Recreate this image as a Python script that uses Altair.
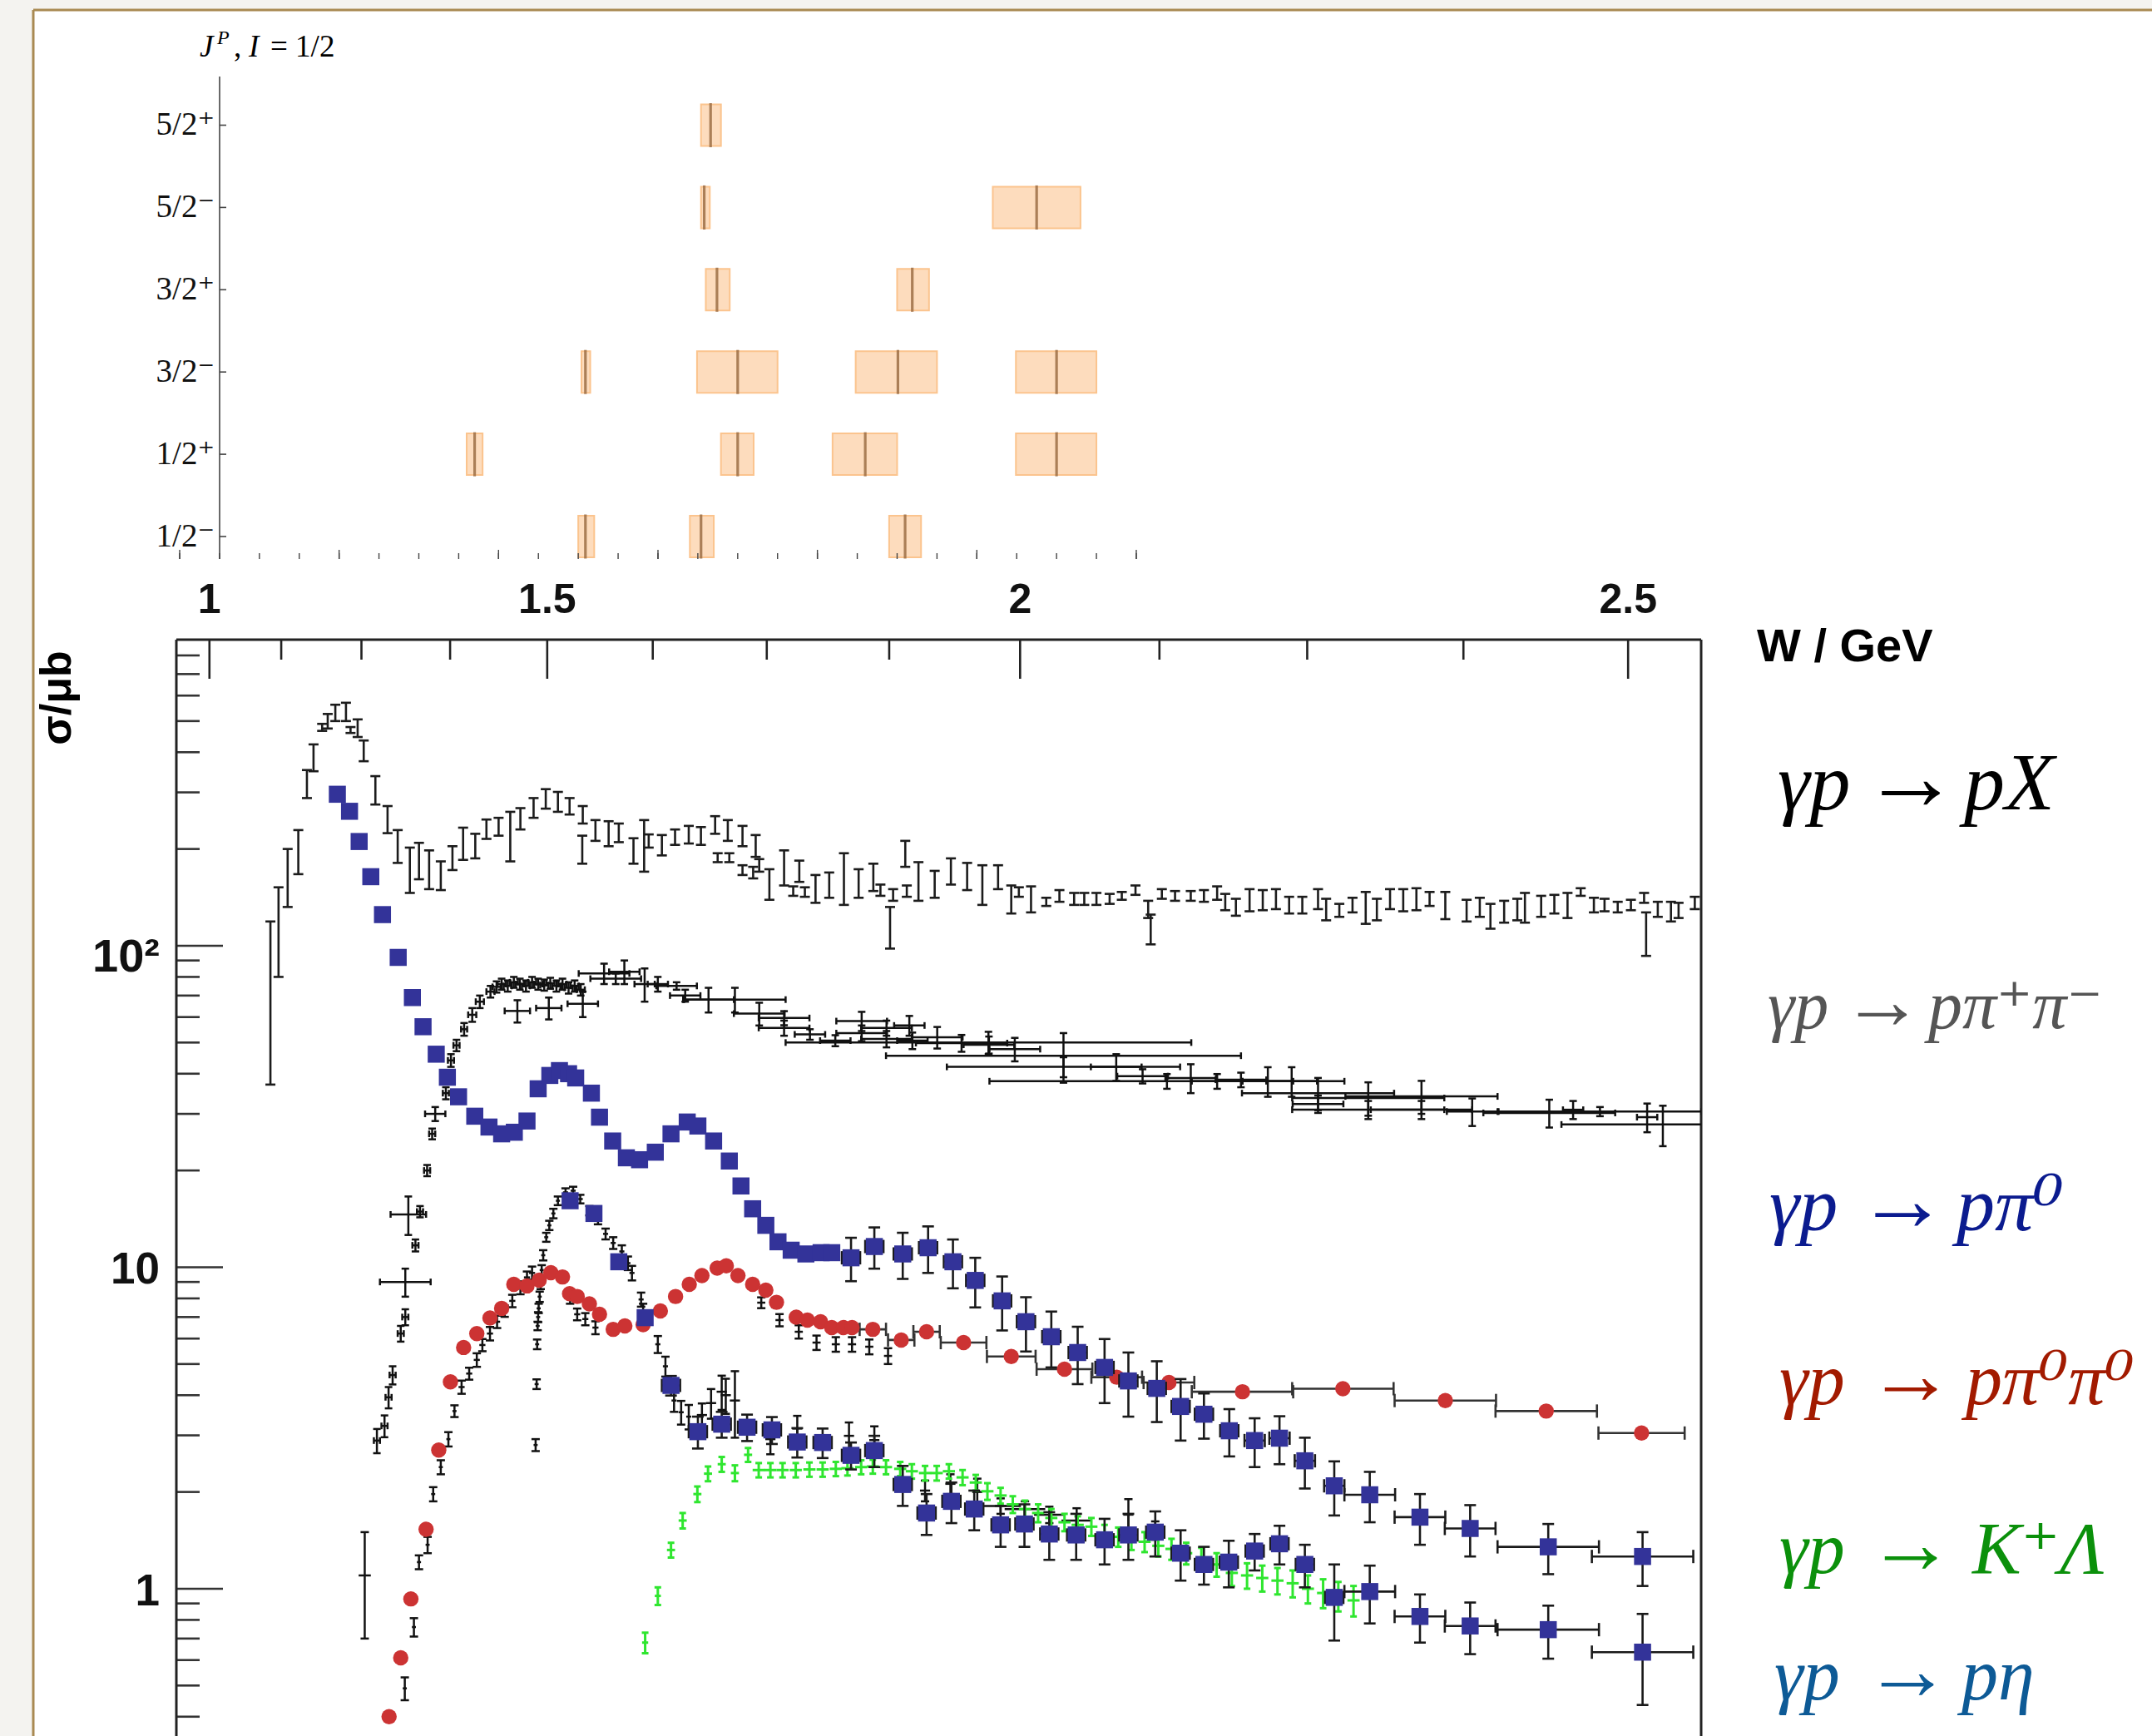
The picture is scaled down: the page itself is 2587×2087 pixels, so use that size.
import altair as alt
import pandas as pd

# ====================== DATA ======================
# --- top panel: N* resonances, I = 1/2 (row index, pole mass and band in GeV)
ROW_LABELS = ["1/2⁻", "1/2⁺", "3/2⁻", "3/2⁺", "5/2⁻", "5/2⁺"]
RES_ROW = [0, 0, 0, 1, 1, 1, 1, 2, 2, 2, 2, 3, 3, 4, 4, 5]
RES_MASS = [1.509, 1.654, 1.910, 1.370, 1.700, 1.860, 2.100, 1.509, 1.700, 1.901, 2.100, 1.674, 1.919, 1.658, 2.075, 1.666]
RES_LO = [1.500, 1.640, 1.890, 1.360, 1.679, 1.819, 2.049, 1.504, 1.649, 1.848, 2.049, 1.660, 1.900, 1.654, 2.020, 1.654]
RES_HI = [1.520, 1.670, 1.930, 1.380, 1.720, 1.900, 2.150, 1.515, 1.750, 1.950, 2.150, 1.690, 1.940, 1.665, 2.130, 1.679]
MASS_TICKS = [1.00, 1.05, 1.10, 1.15, 1.20, 1.25, 1.30, 1.35, 1.40, 1.45, 1.50, 1.55, 1.60,
              1.65, 1.70, 1.75, 1.80, 1.85, 1.90, 1.95, 2.00, 2.05, 2.10, 2.15, 2.20]
MASS_MAJOR = [1.0, 1.2, 1.4, 1.6, 1.8, 2.0, 2.2]

# --- main plot axes (x: photon energy E_gamma in GeV, labelled in W; y: sigma in microbarn)
W_MAJOR = [1.0, 1.5, 2.0, 2.5]
W_MAJOR_LABELS = ["1", "1.5", "2", "2.5"]
W_MINOR = [1.125, 1.25, 1.375, 1.625, 1.75, 1.875, 2.125, 2.25, 2.375]
SIG_MAJOR = [1, 10, 100]
SIG_MAJOR_LABELS = ["1", "10", "10²"]
SIG_MINOR = [0.4, 0.5, 0.6, 0.7, 0.8, 0.9, 2, 3, 4, 5, 6, 7, 8, 9,
             20, 30, 40, 50, 60, 70, 80, 90, 200, 300, 400, 500, 600, 700, 800]

REACTION_LHS = "γp"
REACTION_ARROW = "→"
REACTION_RHS = ["pX", "pπ⁺π⁻", "pπ⁰", "pπ⁰π⁰", "K⁺Λ", "pη"]

# gamma p -> p X : (E, sigma, dsigma)
PX = [(0.184, 78, 41), (0.200, 116, 36), (0.218, 166, 34), (0.239, 198, 31), (0.256, 320, 32),
      (0.269, 386, 37), (0.286, 478, 12), (0.297, 500, 26), (0.312, 531, 31), (0.333, 535, 35),
      (0.342, 469, 10), (0.356, 476, 30), (0.368, 405, 30), (0.391, 306, 31), (0.415, 248, 24),
      (0.435, 205, 24), (0.459, 174, 28), (0.477, 185, 24), (0.497, 174, 24), (0.520, 166, 17),
      (0.543, 188, 16), (0.564, 209, 24), (0.588, 205, 18), (0.610, 231, 16), (0.634, 235, 15),
      (0.657, 222, 39), (0.677, 249, 19), (0.703, 269, 19), (0.727, 287, 20), (0.751, 281, 20),
      (0.774, 272, 16), (0.800, 256, 16), (0.799, 200, 20), (0.825, 229, 17), (0.851, 224, 20),
      (0.871, 225, 15), (0.900, 198, 18), (0.921, 208, 38), (0.930, 212, 10), (0.956, 206, 15),
      (0.982, 218, 12), (1.009, 222, 14), (1.033, 220, 14), (1.061, 238, 15), (1.086, 229, 17),
      (1.115, 220, 16), (1.141, 205, 16), (1.066, 188, 6), (1.089, 188, 6), (1.115, 172, 6),
      (1.136, 169, 7), (1.148, 178, 8), (1.168, 156, 17), (1.197, 176, 22), (1.227, 171, 13),
      (1.215, 148, 5), (1.238, 147, 5), (1.259, 151, 15), (1.286, 155, 14), (1.315, 164, 30),
      (1.344, 157, 16), (1.373, 164, 16), (1.387, 149, 6), (1.412, 144, 6), (1.406, 115, 17),
      (1.436, 194, 18), (1.439, 148, 6), (1.462, 160, 22), (1.494, 156, 15), (1.526, 171, 16),
      (1.558, 165, 16), (1.588, 156, 22), (1.619, 164, 14), (1.645, 140, 14), (1.660, 147, 5),
      (1.684, 140, 13), (1.714, 137, 4), (1.740, 143, 6), (1.769, 140, 6), (1.789, 140, 6),
      (1.813, 140, 6), (1.839, 140, 5), (1.863, 143, 4), (1.890, 149, 5), (1.915, 130, 8),
      (1.920, 113, 12), (1.942, 145, 5), (1.968, 143, 5), (1.999, 143, 5), (2.025, 143, 6),
      (2.051, 146, 7), (2.067, 137, 8), (2.088, 132, 8), (2.115, 139, 11), (2.141, 139, 10),
      (2.167, 140, 10), (2.193, 134, 8), (2.219, 134, 8), (2.250, 140, 10), (2.266, 130, 10),
      (2.292, 129, 6), (2.318, 134, 7), (2.344, 132, 15), (2.366, 130, 10), (2.392, 140, 10),
      (2.418, 139, 11), (2.444, 140, 11), (2.470, 140, 7), (2.501, 134, 13), (2.543, 129, 10),
      (2.569, 132, 9), (2.590, 124, 11), (2.617, 128, 10), (2.643, 130, 10), (2.658, 132, 14),
      (2.690, 133, 10), (2.716, 135, 9), (2.742, 134, 12), (2.768, 147, 4), (2.794, 134, 7),
      (2.815, 134, 6), (2.841, 132, 5), (2.867, 134, 5), (2.893, 141, 5), (2.897, 110, 17),
      (2.920, 130, 7), (2.946, 128, 9), (2.961, 129, 7), (2.993, 136, 6)]

# gamma p -> p pi+ pi- : (E, sigma, dE, dsigma)
PIPI = [(0.394, 2.89, 0.006, 0.25), (0.409, 3.21, 0.006, 0.25), (0.417, 3.94, 0.006, 0.3),
        (0.425, 4.62, 0.006, 0.3), (0.441, 6.22, 0.006, 0.35), (0.450, 7.0, 0.006, 0.4),
        (0.450, 9.0, 0.05, 0.9), (0.456, 14.6, 0.035, 2.0), (0.470, 11.7, 0.006, 0.5),
        (0.479, 14.9, 0.006, 0.6), (0.493, 20.0, 0.006, 0.8), (0.503, 26.0, 0.006, 1.0),
        (0.509, 30.0, 0.02, 1.5), (0.530, 34.8, 0.006, 1.5), (0.540, 44.0, 0.006, 2.0),
        (0.551, 49.0, 0.006, 2.0), (0.566, 55.0, 0.006, 2.5), (0.582, 61.0, 0.008, 3.0),
        (0.597, 67.0, 0.008, 3.0), (0.618, 72.0, 0.008, 3.0), (0.630, 74.5, 0.008, 3.0),
        (0.640, 76.0, 0.008, 3.0), (0.652, 75.0, 0.008, 3.0), (0.664, 77.0, 0.008, 3.0),
        (0.676, 76.0, 0.008, 3.0), (0.688, 75.0, 0.008, 3.0), (0.700, 77.0, 0.008, 3.0),
        (0.712, 76.0, 0.008, 3.0), (0.724, 75.5, 0.008, 3.0), (0.736, 76.5, 0.008, 3.0),
        (0.748, 75.0, 0.008, 3.0), (0.760, 76.0, 0.008, 3.0), (0.772, 74.0, 0.008, 3.0),
        (0.784, 75.0, 0.008, 3.0), (0.796, 73.0, 0.008, 3.0),
        (0.671, 62.7, 0.025, 5.0), (0.733, 64.0, 0.025, 5.0), (0.800, 66.0, 0.03, 6.0),
        (0.842, 82.0, 0.05, 6.0), (0.865, 79.0, 0.05, 3.0), (0.882, 83.0, 0.03, 7.0),
        (0.922, 76.0, 0.02, 9.0), (0.948, 76.0, 0.02, 4.0), (0.985, 75.0, 0.04, 2.0),
        (1.002, 70.0, 0.03, 3.0), (1.048, 68.0, 0.05, 6.0), (1.100, 68.0, 0.10, 6.0),
        (1.148, 61.5, 0.05, 5.0), (1.197, 59.6, 0.05, 3.0), (1.197, 55.5, 0.05, 3.0),
        (1.248, 53.0, 0.03, 2.0), (1.298, 50.7, 0.03, 2.0), (1.350, 58.3, 0.05, 4.0),
        (1.350, 53.5, 0.05, 3.0), (1.399, 55.5, 0.05, 3.0), (1.399, 51.3, 0.05, 3.0),
        (1.444, 56.5, 0.03, 4.0), (1.450, 50.7, 0.03, 3.0), (1.499, 51.9, 0.05, 4.0),
        (1.547, 49.8, 0.09, 3.0), (1.600, 50.0, 0.40, 4.0), (1.601, 49.2, 0.05, 3.0),
        (1.652, 47.7, 0.05, 4.0), (1.748, 45.5, 0.35, 8.0), (1.748, 42.0, 0.23, 3.0),
        (1.852, 42.0, 0.05, 4.0), (1.904, 39.3, 0.05, 2.0), (1.952, 37.9, 0.35, 2.0),
        (1.999, 38.8, 0.05, 4.0), (2.051, 37.9, 0.05, 2.0), (2.098, 38.3, 0.05, 2.0),
        (2.151, 37.9, 0.05, 4.0), (2.198, 37.9, 0.05, 4.0), (2.250, 34.8, 0.15, 4.0),
        (2.250, 32.2, 0.05, 2.0), (2.349, 33.6, 0.15, 4.0), (2.349, 30.9, 0.15, 2.0),
        (2.454, 34.0, 0.15, 4.0), (2.454, 30.9, 0.10, 2.0), (2.554, 30.5, 0.05, 3.0),
        (2.706, 30.2, 0.13, 3.0), (2.753, 30.9, 0.02, 2.0), (2.806, 30.5, 0.20, 1.0),
        (2.899, 29.3, 0.02, 3.0), (2.930, 27.8, 0.20, 4.0)]

# gamma p -> p pi0 (blue squares) : (E, sigma, dE, dsigma)
PI0 = [(0.316, 296, 0, 0), (0.340, 262, 0, 0), (0.359, 211, 0, 0), (0.382, 164, 0, 0),
       (0.405, 125, 0, 0), (0.436, 92, 0, 0), (0.464, 69, 0, 0), (0.485, 56, 0, 0),
       (0.511, 46, 0, 0), (0.533, 39, 0, 0), (0.555, 33.9, 0, 0), (0.587, 29.5, 0, 0),
       (0.615, 27.3, 0, 0), (0.640, 26.0, 0, 0), (0.665, 26.3, 0, 0), (0.690, 28.5, 0, 0),
       (0.712, 35.9, 0, 0), (0.735, 39.5, 0, 0), (0.754, 40.9, 0, 0), (0.772, 40.0, 0, 0),
       (0.786, 38.8, 0, 0), (0.817, 34.8, 0, 0), (0.833, 29.3, 0, 0), (0.859, 24.7, 0, 0),
       (0.886, 21.9, 0, 0), (0.912, 21.6, 0, 0), (0.943, 22.8, 0, 0), (0.974, 26.0, 0, 0),
       (1.006, 28.3, 0, 0), (1.027, 27.5, 0, 0), (1.058, 24.7, 0, 0), (1.089, 21.4, 0, 0),
       (1.112, 17.9, 0, 0), (1.135, 15.2, 0, 0), (1.161, 13.5, 0, 0), (1.185, 12.0, 0, 0),
       (1.211, 11.3, 0, 0), (1.240, 11.0, 0, 0), (1.270, 11.1, 0, 0), (1.291, 11.1, 0, 0),
       (1.329, 10.7, 0.018, 1.65), (1.375, 11.6, 0.018, 1.7), (1.431, 11.0, 0.018, 1.8),
       (1.481, 11.5, 0.018, 1.9), (1.530, 10.4, 0.018, 1.8), (1.574, 9.1, 0.018, 1.6),
       (1.627, 7.86, 0.018, 1.5), (1.674, 6.77, 0.018, 1.3), (1.724, 6.08, 0.018, 1.2),
       (1.776, 5.43, 0.018, 1.1), (1.829, 4.88, 0.018, 1.1), (1.876, 4.43, 0.018, 1.0),
       (1.932, 4.20, 0.018, 0.9), (1.979, 3.69, 0.018, 0.8), (2.025, 3.49, 0.018, 0.56),
       (2.075, 3.10, 0.018, 0.52), (2.125, 2.89, 0.02, 0.5), (2.174, 2.94, 0.02, 0.5),
       (2.224, 2.50, 0.02, 0.45), (2.282, 2.09, 0.02, 0.4), (2.352, 1.96, 0.05, 0.35),
       (2.451, 1.67, 0.05, 0.3), (2.550, 1.54, 0.05, 0.28), (2.704, 1.35, 0.1, 0.24),
       (2.890, 1.26, 0.1, 0.24)]

# gamma p -> p eta (blue squares) : (E, sigma, dE, dsigma)
ETA_SQ = [(0.775, 16.1, 0, 0), (0.822, 14.7, 0, 0), (0.871, 10.4, 0, 0), (0.923, 6.97, 0, 0),
          (0.974, 4.29, 0.018, 0.3), (1.027, 3.08, 0.018, 0.35), (1.074, 3.25, 0.018, 0.3),
          (1.124, 3.18, 0.018, 0.3), (1.173, 3.12, 0.018, 0.3), (1.223, 2.86, 0.018, 0.3),
          (1.273, 2.85, 0.018, 0.3), (1.329, 2.60, 0.018, 0.25), (1.375, 2.69, 0.018, 0.3),
          (1.431, 2.11, 0.018, 0.3), (1.478, 1.72, 0.018, 0.25), (1.527, 1.87, 0.018, 0.27),
          (1.572, 1.77, 0.018, 0.25), (1.624, 1.58, 0.018, 0.23), (1.671, 1.59, 0.018, 0.24),
          (1.720, 1.48, 0.018, 0.25), (1.773, 1.47, 0.018, 0.24), (1.829, 1.42, 0.018, 0.23),
          (1.876, 1.47, 0.018, 0.24), (1.929, 1.50, 0.018, 0.24), (1.979, 1.29, 0.018, 0.23),
          (2.025, 1.19, 0.018, 0.16), (2.074, 1.21, 0.018, 0.2), (2.125, 1.31, 0.018, 0.17),
          (2.174, 1.38, 0.018, 0.19), (2.224, 1.19, 0.018, 0.18), (2.282, 0.94, 0.018, 0.25),
          (2.352, 0.98, 0.05, 0.2), (2.451, 0.82, 0.05, 0.14), (2.550, 0.766, 0.05, 0.14),
          (2.704, 0.746, 0.1, 0.14), (2.890, 0.635, 0.1, 0.2)]

# gamma p -> p eta (black crosses) : (E, sigma, dE, dsigma)
ETA_X = [(0.707, 2.80, 0.004, 0.12), (0.709, 4.33, 0.004, 0.15), (0.710, 5.76, 0.004, 0.2),
         (0.711, 6.57, 0.004, 0.2), (0.712, 7.0, 0.004, 0.25), (0.713, 7.45, 0.004, 0.25),
         (0.715, 8.1, 0.004, 0.3), (0.717, 8.85, 0.004, 0.3), (0.719, 9.8, 0.004, 0.35),
         (0.722, 10.9, 0.004, 0.4), (0.728, 12.4, 0.004, 0.4), (0.734, 13.5, 0.004, 0.45),
         (0.742, 14.7, 0.004, 0.5), (0.751, 16.1, 0.004, 0.5), (0.766, 17.1, 0.005, 0.5),
         (0.781, 17.3, 0.005, 0.5), (0.795, 16.3, 0.005, 0.5), (0.813, 15.0, 0.005, 0.5),
         (0.830, 14.1, 0.005, 0.5), (0.845, 12.7, 0.005, 0.5), (0.860, 11.9, 0.005, 0.5),
         (0.877, 11.2, 0.005, 0.5), (0.889, 10.3, 0.005, 0.5), (0.897, 9.6, 0.005, 0.5),
         (0.915, 7.94, 0.005, 0.4), (0.919, 7.3, 0.005, 0.4), (0.948, 5.76, 0.005, 0.35),
         (0.963, 4.92, 0.005, 0.35), (0.980, 3.85, 0.005, 0.3), (0.994, 3.54, 0.005, 0.3),
         (1.009, 3.43, 0.005, 0.3), (1.035, 3.47, 0.01, 0.3), (1.053, 3.78, 0.01, 0.4),
         (1.074, 4.10, 0.01, 0.5), (1.082, 4.0, 0.01, 0.5), (1.100, 3.85, 0.01, 0.9),
         (1.170, 2.92, 0.01, 0.3), (1.223, 3.15, 0.01, 0.3), (1.325, 2.99, 0.01, 0.3),
         (1.375, 2.90, 0.01, 0.3), (1.475, 2.02, 0.01, 0.15), (1.525, 2.12, 0.01, 0.15),
         (1.578, 2.00, 0.01, 0.2), (1.624, 1.81, 0.04, 0.1), (1.672, 1.77, 0.04, 0.1),
         (1.720, 1.70, 0.03, 0.1), (1.774, 1.63, 0.03, 0.15), (1.876, 1.70, 0.01, 0.2),
         (1.929, 1.52, 0.01, 0.1)]

# gamma p -> p pi0 pi0 (red circles) : (E, sigma, dE, dsigma)
PI0PI0 = [(0.418, 0.40, 0, 0), (0.441, 0.61, 0, 0), (0.461, 0.93, 0, 0), (0.491, 1.53, 0, 0),
          (0.516, 2.70, 0, 0), (0.539, 4.40, 0, 0), (0.565, 5.63, 0, 0), (0.591, 6.22, 0, 0),
          (0.617, 6.95, 0, 0), (0.640, 7.45, 0, 0), (0.664, 8.85, 0, 0), (0.690, 8.75, 0, 0),
          (0.714, 9.12, 0, 0), (0.737, 9.62, 0, 0), (0.760, 9.33, 0, 0), (0.774, 8.28, 0, 0),
          (0.789, 8.11, 0, 0), (0.813, 7.69, 0, 0), (0.833, 7.14, 0, 0), (0.860, 6.41, 0, 0),
          (0.883, 6.57, 0, 0), (0.919, 6.63, 0, 0), (0.953, 7.31, 0, 0), (0.983, 8.11, 0, 0),
          (1.010, 8.85, 0, 0), (1.035, 9.42, 0, 0), (1.065, 9.94, 0, 0), (1.083, 10.1, 0, 0),
          (1.106, 9.42, 0, 0), (1.135, 8.85, 0, 0), (1.161, 8.49, 0, 0), (1.182, 7.78, 0, 0),
          (1.221, 6.99, 0, 0), (1.243, 6.85, 0, 0), (1.269, 6.77, 0, 0), (1.291, 6.49, 0, 0),
          (1.314, 6.49, 0, 0), (1.331, 6.49, 0, 0), (1.372, 6.41, 0.026, 0),
          (1.428, 5.94, 0.026, 0), (1.478, 6.30, 0.026, 0), (1.551, 5.83, 0.045, 0),
          (1.645, 5.28, 0.048, 0), (1.750, 4.82, 0.055, 0), (1.853, 4.55, 0.05, 0),
          (1.956, 4.38, 0.05, 0), (2.101, 4.10, 0.1, 0), (2.299, 4.19, 0.1, 0),
          (2.501, 3.85, 0.1, 0), (2.700, 3.57, 0.1, 0), (2.888, 3.05, 0.085, 0)]

# gamma p -> p pi0 pi0 (black crosses, other data) : (E, sigma, dE, dsigma)
PI0PI0_X = [(0.370, 1.10, 0.012, 0.40), (0.449, 0.49, 0.004, 0.04), (0.467, 0.76, 0.004, 0.05),
            (0.477, 1.21, 0.004, 0.06), (0.494, 1.37, 0.004, 0.08), (0.505, 1.97, 0.004, 0.1),
            (0.520, 2.39, 0.004, 0.12), (0.535, 2.92, 0.004, 0.15), (0.547, 3.57, 0.004, 0.15),
            (0.561, 4.24, 0.006, 0.2), (0.576, 4.67, 0.006, 0.2), (0.591, 5.15, 0.006, 0.25),
            (0.602, 5.73, 0.006, 0.25), (0.617, 6.22, 0.006, 0.3), (0.631, 6.77, 0.006, 0.3),
            (0.646, 7.31, 0.006, 0.3), (0.661, 7.86, 0.006, 0.35), (0.677, 8.64, 0.006, 0.4),
            (0.690, 9.3, 0.006, 0.4), (0.700, 9.6, 0.006, 0.45), (0.775, 8.0, 0.006, 0.3),
            (0.789, 7.14, 0.006, 0.3), (0.805, 6.9, 0.006, 0.3), (0.825, 6.49, 0.006, 0.3),
            (1.152, 7.76, 0.008, 0.3), (1.188, 6.85, 0.008, 0.3), (1.226, 6.30, 0.008, 0.3),
            (1.261, 5.83, 0.008, 0.3), (1.299, 5.76, 0.008, 0.3), (1.331, 5.76, 0.008, 0.3),
            (1.365, 5.66, 0.008, 0.3), (1.402, 5.30, 0.008, 0.3)]

# gamma p -> K+ Lambda (green crosses) : (E, sigma, dE, dsigma)
KL = [(0.923, 0.68, 0.006, 0.05), (0.948, 0.95, 0.006, 0.06), (0.974, 1.32, 0.008, 0.07),
      (0.997, 1.63, 0.008, 0.09), (1.026, 1.97, 0.008, 0.11), (1.047, 2.28, 0.008, 0.12),
      (1.074, 2.44, 0.008, 0.13), (1.100, 2.29, 0.008, 0.13), (1.126, 2.61, 0.008, 0.13),
      (1.147, 2.34, 0.012, 0.12), (1.170, 2.34, 0.012, 0.12), (1.194, 2.34, 0.012, 0.12),
      (1.220, 2.34, 0.012, 0.12), (1.247, 2.35, 0.012, 0.12), (1.273, 2.35, 0.012, 0.12),
      (1.299, 2.36, 0.012, 0.12), (1.322, 2.37, 0.012, 0.12), (1.349, 2.39, 0.012, 0.12),
      (1.372, 2.40, 0.012, 0.12), (1.398, 2.39, 0.012, 0.12), (1.426, 2.36, 0.012, 0.12),
      (1.449, 2.32, 0.012, 0.12), (1.475, 2.29, 0.012, 0.12), (1.498, 2.29, 0.012, 0.12),
      (1.522, 2.32, 0.012, 0.12), (1.549, 2.22, 0.012, 0.12), (1.575, 2.14, 0.012, 0.12),
      (1.598, 2.01, 0.012, 0.12), (1.624, 1.95, 0.012, 0.11), (1.648, 1.83, 0.012, 0.11),
      (1.672, 1.77, 0.012, 0.11), (1.698, 1.72, 0.012, 0.11), (1.724, 1.66, 0.012, 0.11),
      (1.750, 1.61, 0.012, 0.1), (1.776, 1.58, 0.012, 0.1), (1.803, 1.56, 0.012, 0.1),
      (1.829, 1.48, 0.012, 0.1), (1.856, 1.45, 0.012, 0.1), (1.882, 1.42, 0.012, 0.1),
      (1.908, 1.40, 0.012, 0.1), (1.935, 1.36, 0.012, 0.1), (1.961, 1.33, 0.012, 0.1),
      (1.990, 1.29, 0.012, 0.1), (2.020, 1.24, 0.012, 0.1), (2.050, 1.19, 0.012, 0.1),
      (2.080, 1.12, 0.012, 0.1), (2.110, 1.10, 0.012, 0.1), (2.140, 1.08, 0.012, 0.1),
      (2.170, 1.06, 0.012, 0.1), (2.200, 1.04, 0.012, 0.1), (2.230, 1.00, 0.012, 0.1),
      (2.260, 0.97, 0.012, 0.1), (2.290, 0.95, 0.012, 0.1), (2.320, 0.92, 0.012, 0.1)]

# ====================== LAYOUT / STYLE ======================
SANS = "Liberation Sans, Arial, Helvetica, sans-serif"
SERIF = "Liberation Serif, DejaVu Serif, Times New Roman, serif"
PLOT_L, PLOT_T, PLOT_W, PLOT_H = 212, 769, 1833, 1318


def RX(v):
    return v - PLOT_L


def RY(v):
    return v - PLOT_T


XS = alt.Scale(domain=[-0.0015, 3.0055], nice=False, zero=False)
YS = alt.Scale(type="log", domain=[0.3483, 895.6], nice=False)
MS = alt.Scale(domain=[0.995826, 2.908586], nice=False, zero=False)
RS = alt.Scale(domain=[-14.5804, -1.2538], nice=False, zero=False)


def ex(f):
    return alt.X(f + ":Q", scale=XS, axis=None)


def ey(f):
    return alt.Y(f + ":Q", scale=YS, axis=None)


ONE = pd.DataFrame({"a": [0]})
layers = []


def vrule(x, y1, y2, color, w):
    return alt.Chart(ONE).mark_rule(color=color, strokeWidth=w).encode(
        x=alt.value(x), y=alt.value(y1), y2=alt.value(y2))


def hrule(y, x1, x2, color, w):
    return alt.Chart(ONE).mark_rule(color=color, strokeWidth=w).encode(
        y=alt.value(y), x=alt.value(x1), x2=alt.value(x2))


def label(text, x, y, size, color="#000", font=SERIF, style="normal", weight="normal",
          align="left", baseline="alphabetic", angle=None):
    kw = dict(text=text, fontSize=size, color=color, font=font, fontStyle=style,
              fontWeight=weight, align=align, baseline=baseline)
    if angle is not None:
        kw["angle"] = angle
    return alt.Chart(ONE).mark_text(**kw).encode(x=alt.value(x), y=alt.value(y))


# ---------- background & border ----------
layers.append(alt.Chart(ONE).mark_rect(color="white").encode(
    x=alt.value(RX(40)), x2=alt.value(RX(2587)), y=alt.value(RY(12)), y2=alt.value(RY(2087))))
layers.append(vrule(RX(40), RY(12), RY(2087), "#a98a52", 3))
layers.append(hrule(RY(12), RX(40), RX(2587), "#a98a52", 3))

# ---------- top panel ----------
res = pd.DataFrame({"k": RES_ROW, "m": RES_MASS, "lo": RES_LO, "hi": RES_HI})
res["b0"] = res["k"] - 0.253
res["b1"] = res["k"] + 0.253
res["c0"] = res["k"] - 0.268
res["c1"] = res["k"] + 0.268
layers.append(alt.Chart(res).mark_rect(fill="#fddcbd", stroke="#fbc48e", strokeWidth=2).encode(
    x=alt.X("lo:Q", scale=MS, axis=None), x2="hi:Q",
    y=alt.Y("b0:Q", scale=RS, axis=None), y2="b1:Q"))
layers.append(alt.Chart(res).mark_rule(color="#9c6e45", strokeWidth=3.2, opacity=0.85).encode(
    x=alt.X("m:Q", scale=MS, axis=None),
    y=alt.Y("c0:Q", scale=RS, axis=None), y2="c1:Q"))

rows = pd.DataFrame({"k": list(range(len(ROW_LABELS))), "lab": ROW_LABELS})
layers.append(vrule(RX(264), RY(92), RY(672), "#444", 1.6))
layers.append(alt.Chart(rows).mark_rule(color="#444", strokeWidth=1.6).encode(
    x=alt.value(RX(264)), x2=alt.value(RX(272)), y=alt.Y("k:Q", scale=RS, axis=None)))
layers.append(alt.Chart(rows).mark_text(font=SERIF, fontSize=39, align="right", baseline="middle",
                                        color="#111").encode(
    x=alt.value(RX(258)), y=alt.Y("k:Q", scale=RS, axis=None), text="lab:N"))
mt = pd.DataFrame({"M": MASS_TICKS})
layers.append(alt.Chart(mt).mark_rule(color="#444", strokeWidth=1.4).encode(
    x=alt.X("M:Q", scale=MS, axis=None), y=alt.value(RY(672)), y2=alt.value(RY(665))))
mM = pd.DataFrame({"M": MASS_MAJOR})
layers.append(alt.Chart(mM).mark_rule(color="#444", strokeWidth=1.4).encode(
    x=alt.X("M:Q", scale=MS, axis=None), y=alt.value(RY(672)), y2=alt.value(RY(661))))
# title  J^P, I = 1/2
layers.append(label("J", RX(240), RY(68), 37, style="italic"))
layers.append(label("P", RX(261), RY(53), 24, style="italic"))
layers.append(label(",", RX(281), RY(68), 37))
layers.append(label("I", RX(299), RY(68), 37, style="italic"))
layers.append(label("= 1/2", RX(325), RY(68), 37))

# ---------- main frame and axes ----------
wmaj = pd.DataFrame({"W": W_MAJOR, "lab": W_MAJOR_LABELS})
wmin = pd.DataFrame({"W": W_MINOR})
ECALC = "(datum.W*datum.W - 0.880354)/1.876544"
layers.append(alt.Chart(wmin).transform_calculate(E=ECALC).mark_rule(color="#222", strokeWidth=2.6).encode(
    x=ex("E"), y=alt.value(0), y2=alt.value(24)))
layers.append(alt.Chart(wmaj).transform_calculate(E=ECALC).mark_rule(color="#222", strokeWidth=2.6).encode(
    x=ex("E"), y=alt.value(0), y2=alt.value(47)))
layers.append(alt.Chart(wmaj).transform_calculate(E=ECALC).mark_text(
    font=SANS, fontSize=50, fontWeight="bold", align="center", baseline="alphabetic", color="#111").encode(
    x=ex("E"), y=alt.value(RY(737)), text="lab:N"))

smin = pd.DataFrame({"s": SIG_MINOR})
smaj = pd.DataFrame({"s": SIG_MAJOR, "lab": SIG_MAJOR_LABELS})
layers.append(alt.Chart(smin).mark_rule(color="#333", strokeWidth=2.6).encode(
    y=ey("s"), x=alt.value(0), x2=alt.value(28)))
layers.append(alt.Chart(smaj).mark_rule(color="#333", strokeWidth=2.6).encode(
    y=ey("s"), x=alt.value(0), x2=alt.value(56)))
layers.append(alt.Chart(smaj[smaj["s"] < 50]).mark_text(
    font=SANS, fontSize=53, fontWeight="bold", align="right", baseline="middle", dy=4, color="#111").encode(
    y=ey("s"), x=alt.value(RX(192)), text="lab:N"))
layers.append(alt.Chart(smaj[smaj["s"] > 50]).mark_text(
    font=SANS, fontSize=56, fontWeight="bold", align="right", baseline="middle", dy=14, color="#111").encode(
    y=ey("s"), x=alt.value(RX(192)), text="lab:N"))

layers.append(hrule(0, 0, PLOT_W, "#222", 3))
layers.append(vrule(0, 0, PLOT_H, "#222", 3))
layers.append(vrule(PLOT_W, 0, PLOT_H, "#222", 3))
layers.append(label("σ/μb", RX(69), RY(839), 52, font=SANS, weight="bold", align="center",
                    baseline="middle", angle=270))
layers.append(label("W / GeV", RX(2112), RY(795), 56, font=SANS, weight="bold"))


# ---------- data ----------
def table4(rows_):
    d = pd.DataFrame(rows_, columns=["E", "s", "dE", "ds"])
    d["lo"] = d["s"] - d["ds"]
    d["hi"] = d["s"] + d["ds"]
    d["xlo"] = d["E"] - d["dE"]
    d["xhi"] = d["E"] + d["dE"]
    return d


def errbars(d, color, w, cap=0, hcap=0):
    out = []
    v = d[d["ds"] > 0]
    h = d[d["dE"] > 0]
    if len(v):
        out.append(alt.Chart(v).mark_rule(color=color, strokeWidth=w, clip=True).encode(
            x=ex("E"), y=ey("lo"), y2=alt.Y2("hi")))
        if cap:
            for f in ("lo", "hi"):
                out.append(alt.Chart(v).mark_tick(orient="horizontal", size=cap, thickness=w,
                                                  color=color, opacity=1, clip=True).encode(
                    x=ex("E"), y=ey(f)))
    if len(h):
        out.append(alt.Chart(h).mark_rule(color=color, strokeWidth=w, clip=True).encode(
            x=ex("xlo"), x2=alt.X2("xhi"), y=ey("s")))
        if hcap:
            for f in ("xlo", "xhi"):
                out.append(alt.Chart(h).mark_tick(orient="vertical", size=hcap, thickness=w,
                                                  color=color, opacity=1, clip=True).encode(
                    x=ex(f), y=ey("s")))
    return out


px = pd.DataFrame(PX, columns=["E", "s", "ds"])
px["dE"] = 0.0
px["lo"] = px["s"] - px["ds"]
px["hi"] = px["s"] + px["ds"]
layers += errbars(px, "#1c1c1c", 2.6, cap=12)

layers += errbars(table4(PIPI), "#111", 2.5, cap=9, hcap=8)
layers += errbars(table4(PI0PI0_X), "#111", 2.5, cap=10)
layers += errbars(table4(ETA_X), "#111", 2.5, cap=10)
layers += errbars(table4(KL), "#2fe62f", 3.0, cap=8)

red = table4(PI0PI0)
layers += errbars(red, "#333", 2.6, hcap=16)
layers.append(alt.Chart(red).mark_circle(size=340, color="#cc3333", opacity=1, clip=True).encode(
    x=ex("E"), y=ey("s")))

for blue in (table4(PI0), table4(ETA_SQ)):
    layers += errbars(blue, "#1a1a1a", 2.6, cap=14, hcap=16)
    layers.append(alt.Chart(blue).mark_square(size=420, color="#333399", opacity=1, clip=True).encode(
        x=ex("E"), y=ey("s")))

# ---------- reaction labels (lhs start x, arrow centre x, rhs start x, baseline y, size, colour) ----------
LEG_STYLE = [(2137, 2297, 2361, 973, 98, "#000000"),
             (2125, 2263, 2318, 1236, 82, "#555555"),
             (2127, 2287, 2352, 1479, 92, "#0b1b8f"),
             (2139, 2297, 2363, 1688, 88, "#a21a00"),
             (2139, 2297, 2371, 1891, 88, "#0b900b"),
             (2133, 2293, 2358, 2043, 88, "#0d5a96")]
for rhs, (lx, ax, rx, ly, fs, col) in zip(REACTION_RHS, LEG_STYLE):
    layers.append(label(REACTION_LHS, RX(lx), RY(ly), fs, color=col, style="italic"))
    layers.append(label(REACTION_ARROW, RX(ax), RY(ly), fs * 1.2, color=col, align="center"))
    layers.append(label(rhs, RX(rx), RY(ly), fs, color=col, style="italic"))

chart = alt.layer(*layers).resolve_scale(x="independent", y="independent").properties(
    width=PLOT_W, height=PLOT_H,
    autosize=alt.AutoSizeParams(type="none"),
    padding={"left": PLOT_L, "top": PLOT_T, "right": 2587 - PLOT_L - PLOT_W, "bottom": 0},
    background="#f4f3f0",
).configure_view(stroke="transparent")

chart.save("out.html", embed_options={"renderer": "svg", "actions": False})
